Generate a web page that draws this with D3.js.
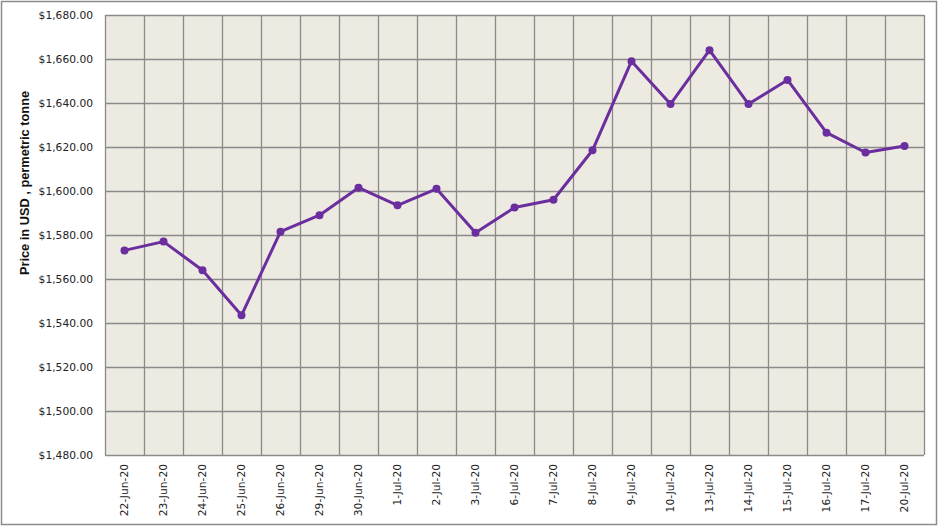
<!DOCTYPE html>
<html><head><meta charset="utf-8">
<script src="https://cdn.jsdelivr.net/npm/d3@7"></script>
<style>html,body{margin:0;padding:0;background:#fff;}svg{display:block;}</style>
</head><body>
<svg id="chart" width="939" height="527"></svg>
<script>
const categories = ["22-Jun-20","23-Jun-20","24-Jun-20","25-Jun-20","26-Jun-20","29-Jun-20","30-Jun-20","1-Jul-20","2-Jul-20","3-Jul-20","6-Jul-20","7-Jul-20","8-Jul-20","9-Jul-20","10-Jul-20","13-Jul-20","14-Jul-20","15-Jul-20","16-Jul-20","17-Jul-20","20-Jul-20"];
const prices = [1573,1577,1564,1543.5,1581.5,1589,1601.5,1593.5,1601,1581,1592.5,1596,1618.5,1659,1639.5,1664,1639.5,1650.5,1626.5,1617.5,1620.5];
const yTicks = [1480,1500,1520,1540,1560,1580,1600,1620,1640,1660,1680];
const yTitle = "Price in USD , permetric tonne";

const svg = d3.select("#chart");
const W = 939, H = 527;
const m = {left:105, right:15, top:15, bottom:72};
const pw = W - m.left - m.right, ph = H - m.top - m.bottom;

// outer frame
svg.append("rect").attr("x",1.5).attr("y",1.5).attr("width",W-4).attr("height",H-4)
  .attr("fill","#fff").attr("stroke","#8c8c8c").attr("stroke-width",1.5);

const x = d3.scaleBand().domain(categories).range([m.left, m.left+819]).padding(0);
const y = d3.scaleLinear().domain([1480,1680]).range([m.top+ph, m.top]);

const g = svg.append("g");
g.append("rect").attr("x",m.left).attr("y",m.top).attr("width",819).attr("height",ph).attr("fill","#EDEAE1");

// horizontal grid
g.selectAll("line.h").data(yTicks).join("line")
  .attr("x1",m.left).attr("x2",m.left+819)
  .attr("y1",d=>Math.round(y(d))+0.5).attr("y2",d=>Math.round(y(d))+0.5)
  .attr("stroke","#8a8a8a").attr("stroke-width",1.3);
// vertical grid at category boundaries
const bounds = categories.map(c=>x(c)).concat([x(categories[categories.length-1])+x.bandwidth()]);
g.selectAll("line.v").data(bounds).join("line")
  .attr("x1",d=>Math.round(d)+0.5).attr("x2",d=>Math.round(d)+0.5)
  .attr("y1",m.top).attr("y2",m.top+ph)
  .attr("stroke","#8a8a8a").attr("stroke-width",1.3);

// y axis labels
const yAxis = d3.axisLeft(y).tickValues(yTicks).tickSize(0).tickPadding(12)
  .tickFormat(d=>"$"+d3.format(",.2f")(d));
const ya = svg.append("g").attr("transform",`translate(${m.left},0)`).call(yAxis);
ya.select(".domain").remove();
ya.selectAll("text").attr("font-family","'DejaVu Sans', Verdana, sans-serif").attr("font-size","10.7px").attr("fill","#222");

// x axis labels
const xAxis = d3.axisBottom(x).tickSize(0).tickPadding(0);
const xa = svg.append("g").attr("transform",`translate(0,${m.top+ph})`).call(xAxis);
xa.select(".domain").remove();
xa.selectAll("text")
  .attr("font-family","'DejaVu Sans', Verdana, sans-serif").attr("font-size","10.7px").attr("fill","#222")
  .attr("transform","rotate(-90)")
  .attr("text-anchor","end").attr("dy","0.35em").attr("x",-9).attr("y",0);

// y title
svg.append("text").attr("transform","translate(29,183) rotate(-90)")
  .attr("text-anchor","middle").attr("font-family","'Liberation Sans', Arial, sans-serif")
  .attr("font-weight","bold").attr("font-size","12.8px").attr("fill","#111").text(yTitle);

// line
const line = d3.line().x((d,i)=>x(categories[i])+x.bandwidth()/2).y(d=>y(d));
svg.append("path").datum(prices).attr("d",line).attr("fill","none")
  .attr("stroke","#6A2E9E").attr("stroke-width",3).attr("stroke-linejoin","round");
svg.selectAll("circle.pt").data(prices).join("circle")
  .attr("cx",(d,i)=>x(categories[i])+x.bandwidth()/2).attr("cy",d=>y(d))
  .attr("r",4).attr("fill","#6A2E9E");
</script>
</body></html>
